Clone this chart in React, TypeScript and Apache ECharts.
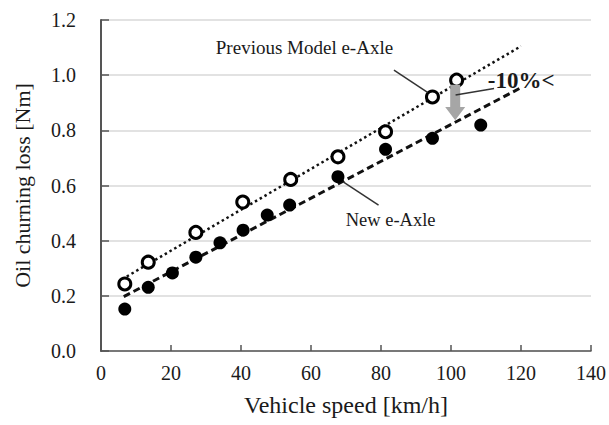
import React, { useEffect, useRef } from "react";
import * as echarts from "echarts";

const xTicks = [0, 20, 40, 60, 80, 100, 120, 140];
const yTicks = [0, 0.2, 0.4, 0.6, 0.8, 1.0, 1.2];

const prevSpeed = [6.8, 13.5, 27.1, 40.5, 54.2, 67.7, 81.3, 94.7, 101.6];
const prevLoss = [0.243, 0.322, 0.43, 0.54, 0.622, 0.704, 0.795, 0.921, 0.982];

const newSpeed = [6.8, 13.5, 20.4, 27.1, 34.0, 40.6, 47.5, 53.9, 67.7, 81.3, 94.7, 108.5];
const newLoss = [0.152, 0.231, 0.283, 0.34, 0.392, 0.438, 0.493, 0.529, 0.632, 0.731, 0.771, 0.819];

const prevTrendX = [6, 120];
const prevTrendY = [0.26, 1.105];
const newTrendX = [6.5, 120.5];
const newTrendY = [0.197, 0.958];

const labelPrev = "Previous Model e-Axle";
const labelNew = "New e-Axle";
const labelReduction = "-10%<";

const FONT = "Liberation Serif";

export default function App() {
  const ref = useRef<HTMLDivElement>(null);
  useEffect(() => {
    document.body.style.margin = "0";
    const el = ref.current!;
    const chart = echarts.init(el, null, { renderer: "svg" });
    const zip = (xs: number[], ys: number[]) => xs.map((x, i) => [x, ys[i]]);
    chart.setOption({
      animation: false,
      backgroundColor: "#ffffff",
      textStyle: { fontFamily: FONT },
      grid: { left: 101, right: 18, top: 20, bottom: 74 },
      xAxis: {
        type: "value",
        min: xTicks[0],
        max: xTicks[xTicks.length - 1],
        interval: 20,
        name: "Vehicle speed [km/h]",
        nameLocation: "middle",
        nameGap: 42,
        nameTextStyle: { fontFamily: FONT, fontSize: 24, color: "#1a1a1a" },
        axisLine: { show: true, lineStyle: { color: "#555", width: 1.5 } },
        axisTick: { show: true, inside: true, length: 6, lineStyle: { color: "#555", width: 1.5 } },
        axisLabel: { fontFamily: FONT, fontSize: 20, color: "#1a1a1a", margin: 12 },
        splitLine: { show: false },
      },
      yAxis: {
        type: "value",
        min: yTicks[0],
        max: yTicks[yTicks.length - 1],
        interval: 0.2,
        name: "Oil churning loss [Nm]",
        nameLocation: "middle",
        nameGap: 68,
        nameTextStyle: { fontFamily: FONT, fontSize: 22, color: "#1a1a1a" },
        axisLine: { show: true, lineStyle: { color: "#555", width: 2 } },
        axisTick: { show: true, inside: true, length: 8, lineStyle: { color: "#555", width: 1.5 } },
        axisLabel: {
          fontFamily: FONT,
          fontSize: 20,
          color: "#1a1a1a",
          margin: 25,
          formatter: (v: number) => v.toFixed(1),
        },
        splitLine: { show: true, lineStyle: { color: "#d9d9d9", width: 1.5 } },
      },
      series: [
        {
          type: "line",
          data: zip(prevTrendX, prevTrendY),
          symbol: "none",
          lineStyle: { color: "#111", width: 2.5, type: [2.5, 3] },
          z: 2,
        },
        {
          type: "line",
          data: zip(newTrendX, newTrendY),
          symbol: "none",
          lineStyle: { color: "#111", width: 3, type: [7, 4] },
          z: 2,
        },
        {
          type: "scatter",
          data: zip(prevSpeed, prevLoss),
          symbol: "circle",
          symbolSize: 12,
          itemStyle: { color: "#ffffff", borderColor: "#000", borderWidth: 3, opacity: 1 },
          z: 3,
        },
        {
          type: "scatter",
          data: zip(newSpeed, newLoss),
          symbol: "circle",
          symbolSize: 13,
          itemStyle: { color: "#000", opacity: 1 },
          z: 3,
        },
      ],
    });

    const px = (x: number, y: number) =>
      chart.convertToPixel({ gridIndex: 0 }, [x, y]) as number[];

    const pPrevLabel = px(32.8, 1.101);
    const pRedLabel = px(110.5, 0.98);
    const pNewLabel = px(69.9, 0.475);
    const lPrevA = px(83.7, 1.018);
    const lPrevB = px(93.3, 0.938);
    const lRedA = px(101.3, 0.928);
    const lRedB = px(112.3, 0.952);
    const lNewA = px(69.3, 0.612);
    const lNewB = px(79.3, 0.529);
    const aTop = px(101.2, 0.965);
    const aNeck = px(101.2, 0.885);
    const aTip = px(101.2, 0.837);
    const sw = 5;
    const hw = 10;

    const txt = (p: number[], text: string, size: number, weight = "normal") => ({
      type: "text",
      x: p[0],
      y: p[1],
      style: {
        text,
        fontFamily: FONT,
        fontSize: size,
        fontWeight: weight,
        fill: "#1a1a1a",
        align: "left",
        verticalAlign: "middle",
      },
      z: 10,
    });
    const seg = (a: number[], b: number[]) => ({
      type: "line",
      shape: { x1: a[0], y1: a[1], x2: b[0], y2: b[1] },
      style: { stroke: "#333", lineWidth: 1.5 },
      z: 10,
    });

    chart.setOption({
      graphic: [
        txt(pPrevLabel, labelPrev, 19),
        txt(pRedLabel, labelReduction, 23, "bold"),
        txt(pNewLabel, labelNew, 18.5),
        seg(lPrevA, lPrevB),
        seg(lRedA, lRedB),
        seg(lNewA, lNewB),
        {
          type: "polygon",
          shape: {
            points: [
              [aTop[0] - sw, aTop[1]],
              [aTop[0] + sw, aTop[1]],
              [aNeck[0] + sw, aNeck[1]],
              [aNeck[0] + hw, aNeck[1]],
              [aTip[0], aTip[1]],
              [aNeck[0] - hw, aNeck[1]],
              [aNeck[0] - sw, aNeck[1]],
            ],
          },
          style: { fill: "#a6a6a6" },
          z: 9,
        },
      ],
    });

    return () => chart.dispose();
  }, []);
  return <div ref={ref} style={{ width: 609, height: 425 }} />;
}
